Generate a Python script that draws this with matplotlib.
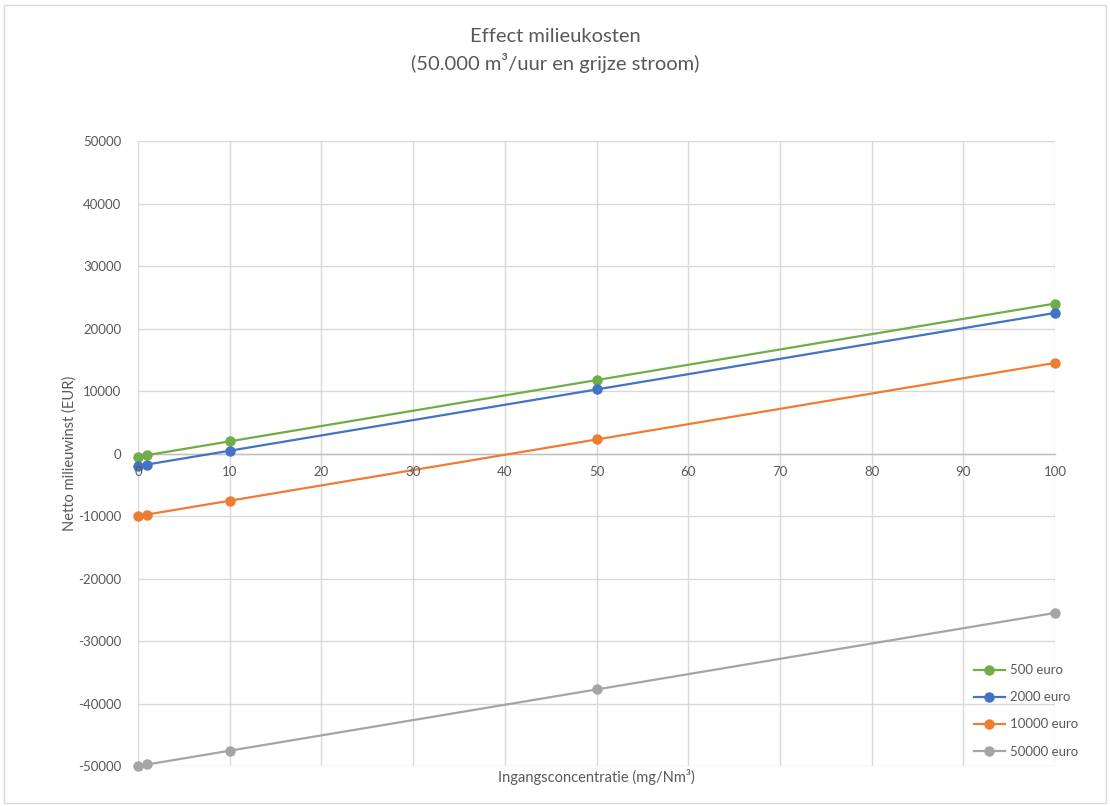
import matplotlib
matplotlib.use("Agg")
import matplotlib.pyplot as plt
from matplotlib.patches import Rectangle

plt.rcParams['font.family'] = ['Lato', 'DejaVu Sans']
plt.rcParams['axes.unicode_minus'] = False

# concentratie (mg/Nm3)
conc = [0, 1, 10, 50, 100]
series_names = ["500 euro", "2000 euro", "10000 euro", "50000 euro"]
winst_500 = [-500, -255, 1950, 11750, 24000]
winst_2000 = [-2000, -1755, 450, 10250, 22500]
winst_10000 = [-10000, -9755, -7550, 2250, 14500]
winst_50000 = [-50000, -49755, -47550, -37750, -25500]
colors = ["#70AD47", "#4472C4", "#ED7D31", "#A5A5A5"]

txt = "#595959"
grid = "#D9D9D9"

fig = plt.figure(figsize=(11.1, 8.06), dpi=100)
ax = fig.add_axes([0.1243, 0.0496, 0.8262, 0.7754])

for vals, name, c in zip([winst_500, winst_2000, winst_10000, winst_50000], series_names, colors):
    ax.plot(conc, vals, color=c, lw=1.6, marker='o', ms=6.5, label=name,
            clip_on=False, zorder=3)

ax.set_xlim(0, 100)
ax.set_ylim(-50000, 50000)
ax.set_xticks(range(0, 101, 10))
ax.set_yticks(range(-50000, 50001, 10000))

# rasterlijnen apart, zodat de x-labels boven de markers kunnen liggen
for x in range(0, 101, 10):
    ax.axvline(x, color=grid, lw=1, zorder=0.5)
for y in range(-50000, 50001, 10000):
    ax.axhline(y, color=grid, lw=1, zorder=0.5)
ax.xaxis.set_zorder(4)

for s in ['top', 'right', 'left']:
    ax.spines[s].set_visible(False)
ax.spines['bottom'].set_position(('data', 0))
ax.spines['bottom'].set_color("#BFBFBF")
ax.spines['bottom'].set_linewidth(1)
ax.spines['bottom'].set_zorder(0.6)

ax.tick_params(axis='both', length=0, labelsize=9.5, colors=txt)
ax.tick_params(axis='x', pad=9)
ax.tick_params(axis='y', pad=12)

ax.set_ylabel("Netto milieuwinst (EUR)", fontsize=10.5, color=txt, labelpad=1)
fig.text(0.5376, 0.036, "Ingangsconcentratie (mg/Nm³)", ha='center', va='center',
         fontsize=10.5, color=txt)

fig.text(0.5, 0.955, "Effect milieukosten", ha='center', va='center',
         fontsize=14.5, color=txt)
fig.text(0.5, 0.922, "(50.000 m³/uur en grijze stroom)", ha='center', va='center',
         fontsize=14.5, color=txt)

leg = fig.legend(loc='center left', bbox_to_anchor=(0.867, 0.118), frameon=False,
                 fontsize=9.5, labelcolor=txt, handlelength=2.3, labelspacing=1.15,
                 handletextpad=0.4)

fig.patches.append(Rectangle((0.004, 0.004), 0.992, 0.99, transform=fig.transFigure,
                             fill=False, edgecolor="#D9D9D9", lw=1))

fig.savefig("out.png", dpi=100)
